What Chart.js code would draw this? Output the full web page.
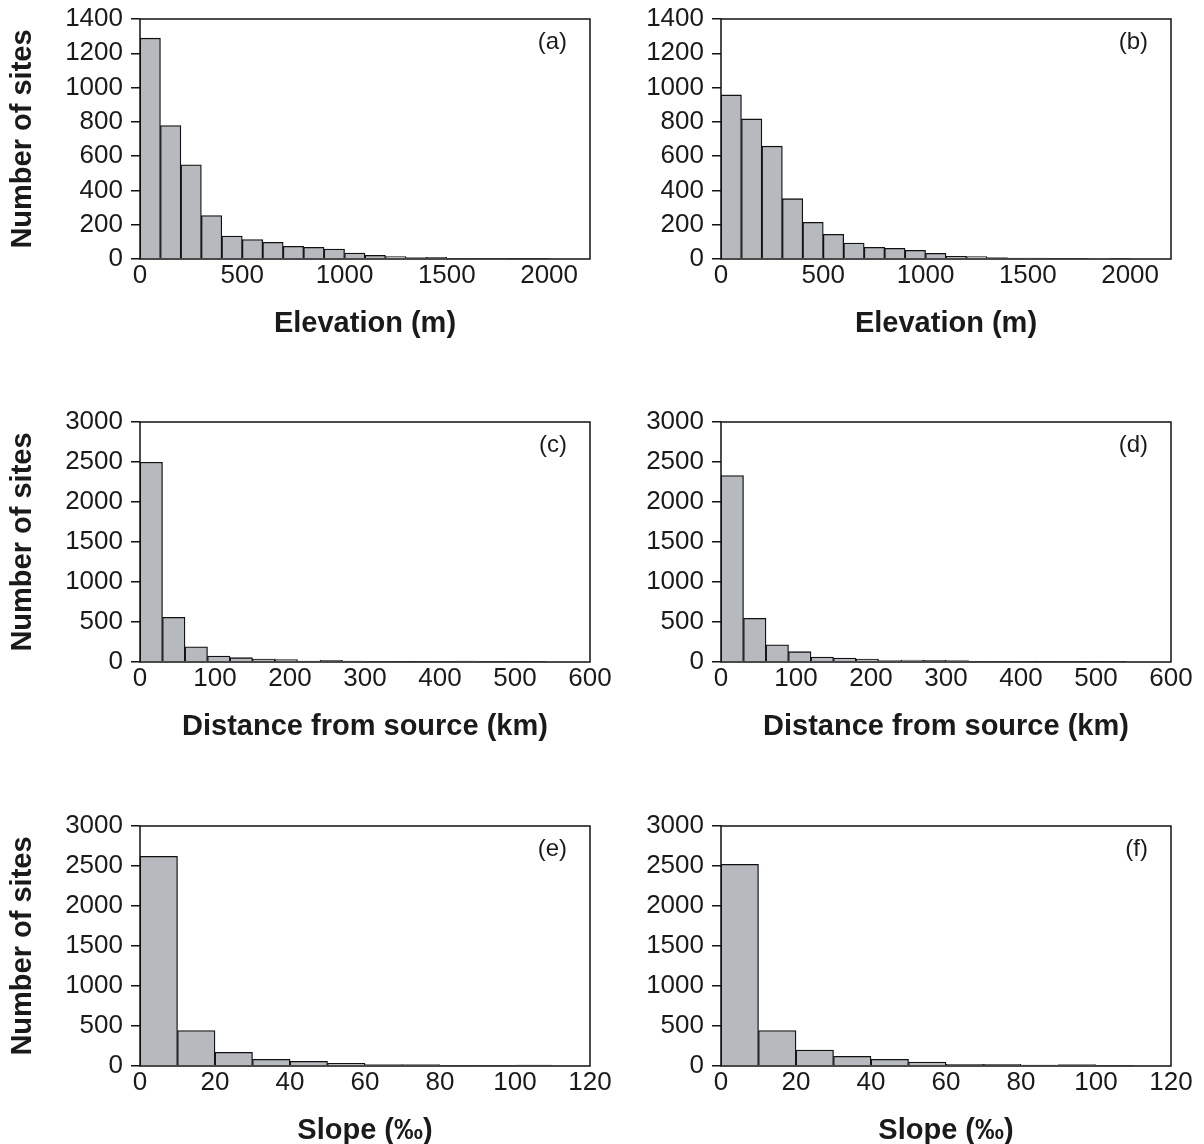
<!DOCTYPE html>
<html>
<head>
<meta charset="utf-8">
<script src="https://cdn.jsdelivr.net/npm/chart.js@4.4.1/dist/chart.umd.min.js"></script>
<style>
  html, body { margin: 0; padding: 0; background: #fff; overflow: hidden; }
  body { width: 1204px; height: 1144px; position: relative; }
  canvas { position: absolute; }
</style>
</head>
<body>
<canvas id="chartA" width="620" height="340" style="left:0;top:1px"></canvas>
<canvas id="chartB" width="623" height="340" style="left:581px;top:1px"></canvas>
<canvas id="chartC" width="620" height="340" style="left:0;top:404px"></canvas>
<canvas id="chartD" width="623" height="340" style="left:581px;top:404px"></canvas>
<canvas id="chartE" width="620" height="340" style="left:0;top:808px"></canvas>
<canvas id="chartF" width="623" height="340" style="left:581px;top:808px"></canvas>
<script>
// Elevation histograms (bins of 100 m)
const elevBinStarts = [0, 100, 200, 300, 400, 500, 600, 700, 800, 900, 1000, 1100, 1200, 1300, 1400, 1500, 1600, 1700, 1800, 1900];
const elevBinWidth = 100;
const elevCountsA = [1288, 778, 549, 253, 134, 113, 97, 74, 68, 58, 35, 21, 14, 8, 10, 4, 3, 3, 2, 2];
const elevCountsB = [957, 817, 658, 352, 214, 144, 93, 68, 62, 51, 33, 16, 14, 8, 6, 6, 4, 4, 0, 4];
const elevTicks = [0, 500, 1000, 1500, 2000];
const elevCountTicks = [0, 200, 400, 600, 800, 1000, 1200, 1400];

// Distance from source histograms (bins of 30 km)
const distBinStarts = [0, 30, 60, 90, 120, 150, 180, 210, 240, 270, 300, 330, 360, 390, 420, 450, 480, 510];
const distBinWidth = 30;
const distCountsC = [2497, 558, 191, 75, 54, 37, 29, 12, 21, 12, 8, 4, 4, 8, 12, 8, 4, 4];
const distCountsD = [2330, 545, 216, 129, 62, 50, 37, 17, 25, 21, 17, 8, 8, 4, 4, 8, 4, 4];
const distTicks = [0, 100, 200, 300, 400, 500, 600];

// Slope histograms (bins of 10 per mille)
const slopeBinStarts = [0, 10, 20, 30, 40, 50, 60, 70, 80, 90, 100];
const slopeBinWidth = 10;
const slopeCountsE = [2621, 442, 171, 83, 58, 33, 17, 17, 8, 8, 12];
const slopeCountsF = [2521, 442, 200, 121, 83, 50, 21, 21, 12, 17, 8];
const slopeTicks = [0, 20, 40, 60, 80, 100, 120];

const siteCountTicks = [0, 500, 1000, 1500, 2000, 2500, 3000];
const yLabel = 'Number of sites';

Chart.defaults.font.family = '"Liberation Sans", Arial, sans-serif';
Chart.defaults.color = '#1a1a1a';

function makePanel(id, opts) {
    const ctx = document.getElementById(id).getContext('2d');
    const points = opts.starts.map((s, i) => ({ x: s + opts.binWidth / 2, y: opts.counts[i] }));

    // frame around the plot area and the (a)-(f) tag
    const framePlugin = {
        id: 'frame',
        afterDraw(chart) {
            const a = chart.chartArea;
            const c = chart.ctx;
            c.save();
            c.strokeStyle = '#111';
            c.lineWidth = 1.5;
            c.strokeRect(a.left, a.top, a.right - a.left, a.bottom - a.top);
            c.fillStyle = '#1a1a1a';
            c.font = '24px "Liberation Sans", Arial, sans-serif';
            c.textAlign = 'right';
            c.textBaseline = 'middle';
            c.fillText(opts.tag, a.right - 23, a.top + 23);
            c.restore();
        }
    };

    return new Chart(ctx, {
        type: 'bar',
        data: {
            datasets: [{
                data: points,
                backgroundColor: '#b6b9bd',
                borderColor: '#111',
                borderWidth: 1.3,
                barPercentage: 1,
                categoryPercentage: 1
            }]
        },
        options: {
            responsive: false,
            animation: false,
            layout: {
                padding: { top: 18, right: opts.padRight, left: 0, bottom: 0 }
            },
            plugins: {
                legend: { display: false },
                tooltip: { enabled: false }
            },
            scales: {
                x: {
                    type: 'linear',
                    offset: false,
                    min: 0,
                    max: opts.xMax,
                    grid: { display: false, drawTicks: false },
                    border: { display: false },
                    ticks: {
                        autoSkip: false,
                        padding: 1,
                        maxRotation: 0,
                        font: { size: 26 },
                        callback: v => String(v)
                    },
                    afterBuildTicks(scale) {
                        scale.ticks = opts.xTicks.map(v => ({ value: v }));
                    },
                    title: {
                        display: true,
                        text: opts.xTitle,
                        font: { size: 29, weight: 'bold' },
                        padding: 0
                    },
                    afterFit(scale) {
                        scale.height = 82;
                        scale.paddingLeft = 0;
                        scale.paddingRight = 0;
                    }
                },
                y: {
                    min: 0,
                    max: opts.yMax,
                    grid: {
                        drawOnChartArea: false,
                        drawTicks: true,
                        tickLength: 9,
                        tickColor: '#111',
                        lineWidth: 1.5
                    },
                    border: { display: false },
                    ticks: {
                        autoSkip: false,
                        padding: 8,
                        font: { size: 26 },
                        callback: v => String(v)
                    },
                    afterBuildTicks(scale) {
                        scale.ticks = opts.yTicks.map(v => ({ value: v }));
                    },
                    title: {
                        display: opts.showYTitle,
                        text: yLabel,
                        font: { size: 29, weight: 'bold' },
                        padding: { top: 6, bottom: 0 }
                    },
                    afterFit(scale) {
                        scale.width = 140;
                        scale.paddingTop = 0;
                        scale.paddingBottom = 0;
                    }
                }
            }
        },
        plugins: [framePlugin]
    });
}

makePanel('chartA', { starts: elevBinStarts, binWidth: elevBinWidth, counts: elevCountsA, xMax: 2200, xTicks: elevTicks, yMax: 1400, yTicks: elevCountTicks, xTitle: 'Elevation (m)', tag: '(a)', showYTitle: true, padRight: 30 });
makePanel('chartB', { starts: elevBinStarts, binWidth: elevBinWidth, counts: elevCountsB, xMax: 2200, xTicks: elevTicks, yMax: 1400, yTicks: elevCountTicks, xTitle: 'Elevation (m)', tag: '(b)', showYTitle: false, padRight: 33 });
makePanel('chartC', { starts: distBinStarts, binWidth: distBinWidth, counts: distCountsC, xMax: 600, xTicks: distTicks, yMax: 3000, yTicks: siteCountTicks, xTitle: 'Distance from source (km)', tag: '(c)', showYTitle: true, padRight: 30 });
makePanel('chartD', { starts: distBinStarts, binWidth: distBinWidth, counts: distCountsD, xMax: 600, xTicks: distTicks, yMax: 3000, yTicks: siteCountTicks, xTitle: 'Distance from source (km)', tag: '(d)', showYTitle: false, padRight: 33 });
makePanel('chartE', { starts: slopeBinStarts, binWidth: slopeBinWidth, counts: slopeCountsE, xMax: 120, xTicks: slopeTicks, yMax: 3000, yTicks: siteCountTicks, xTitle: 'Slope (‰)', tag: '(e)', showYTitle: true, padRight: 30 });
makePanel('chartF', { starts: slopeBinStarts, binWidth: slopeBinWidth, counts: slopeCountsF, xMax: 120, xTicks: slopeTicks, yMax: 3000, yTicks: siteCountTicks, xTitle: 'Slope (‰)', tag: '(f)', showYTitle: false, padRight: 33 });
</script>
</body>
</html>
